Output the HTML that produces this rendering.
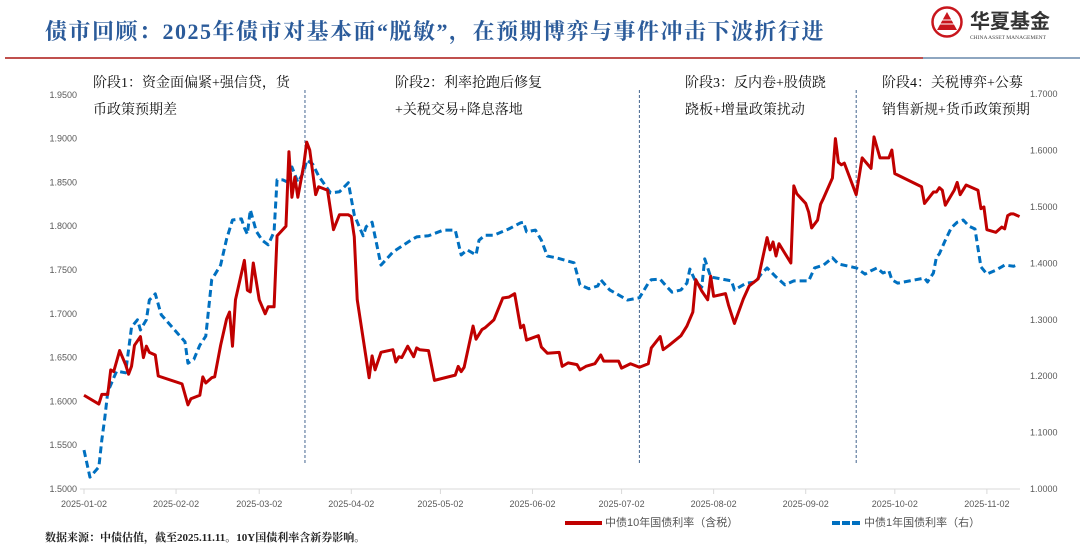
<!DOCTYPE html>
<html><head><meta charset="utf-8">
<style>
body{margin:0;background:#fff;width:1080px;height:553px;overflow:hidden;position:relative;font-family:"Liberation Sans","Noto Sans CJK SC",sans-serif}
.t{position:absolute;white-space:nowrap}
</style></head><body>
<div class="t" style="left:45px;top:15px;font-size:22px;letter-spacing:1.5px;font-weight:bold;color:#2b5b9a;font-family:'Liberation Serif','Noto Serif CJK SC',serif;">债市回顾：2025年债市对基本面“脱敏”，在预期博弈与事件冲击下波折行进</div>
<div style="position:absolute;left:5px;top:57px;width:918px;height:2px;background:#c0504d"></div>
<div style="position:absolute;left:923px;top:57px;width:157px;height:2px;background:#8ea6c0"></div>
<svg style="position:absolute;left:928px;top:4px" width="150" height="40">
<circle cx="19" cy="18" r="14.5" fill="none" stroke="#c8161d" stroke-width="2.5"/>
<polygon points="19,8 29,26 9,26" fill="#c8161d"/>
<line x1="12" y1="20" x2="26" y2="20" stroke="#fff" stroke-width="1"/>
<line x1="14" y1="16" x2="24" y2="16" stroke="#fff" stroke-width="1"/>
<text x="42" y="24" font-size="20" font-weight="bold" fill="#333" font-family="Noto Sans CJK SC,sans-serif">华夏基金</text>
<text x="42" y="35" font-size="5.5" fill="#444" font-family="Liberation Serif,serif">CHINA ASSET MANAGEMENT</text>
</svg>
<svg id="chart" style="position:absolute;left:0;top:0" width="1080" height="553"></svg>
<div class="t" style="left:93px;top:70px;font-size:14px;line-height:27px;color:#111;font-family:'Liberation Serif','Noto Serif CJK SC',serif">阶段1：资金面偏紧+强信贷，货<br>币政策预期差</div>
<div class="t" style="left:395px;top:70px;font-size:14px;line-height:27px;color:#111;font-family:'Liberation Serif','Noto Serif CJK SC',serif">阶段2：利率抢跑后修复<br>+关税交易+降息落地</div>
<div class="t" style="left:685px;top:70px;font-size:14px;line-height:27px;color:#111;font-family:'Liberation Serif','Noto Serif CJK SC',serif">阶段3：反内卷+股债跷<br>跷板+增量政策扰动</div>
<div class="t" style="left:882px;top:70px;font-size:14px;line-height:27px;color:#111;font-family:'Liberation Serif','Noto Serif CJK SC',serif">阶段4：关税博弈+公募<br>销售新规+货币政策预期</div>
<div class="t" style="left:565px;top:514px;font-size:11px;color:#555"><span style="display:inline-block;width:37px;height:4px;background:#c00000;vertical-align:middle;margin-right:3px"></span>中债10年国债利率（含税）</div>
<div class="t" style="left:832px;top:514px;font-size:11px;color:#555"><span style="display:inline-block;width:28px;height:0;border-top:4px dashed #0070c0;vertical-align:middle;margin-right:4px"></span>中债1年国债利率（右）</div>
<div class="t" style="left:45px;top:529px;font-size:11px;font-weight:bold;color:#222;font-family:'Liberation Serif','Noto Serif CJK SC',serif">数据来源：中债估值，截至2025.11.11。10Y国债利率含新券影响。</div>
<script>
const xTickLabels=["2025-01-02","2025-02-02","2025-03-02","2025-04-02","2025-05-02","2025-06-02","2025-07-02","2025-08-02","2025-09-02","2025-10-02","2025-11-02"];
const xTickDays=[0,31,59,90,120,151,181,212,243,273,304];
const leftTicks=[1.50,1.55,1.60,1.65,1.70,1.75,1.80,1.85,1.90,1.95];
const rightTicks=[1.0,1.1,1.2,1.3,1.4,1.5,1.6,1.7];
const eventDays=[74.4,187,260];
const redDays=[0,5,6,8,9,10,11,12,14,15,16,17,19,20,21,22,24,25,33,35,36,39,40,41,43,44,46,48,49,50,51,54,55,56,57,59,61,62,64,65,68,69,70,71,72,74,75,76,78,79,82,84,86,89,90,91,92,96,97,98,100,104,105,106,107,109,111,112,113,116,118,125,126,127,128,131,132,134,135,138,141,143,145,147,148,149,153,154,156,160,161,163,166,167,169,172,174,175,180,181,184,187,190,191,194,195,197,201,203,205,206,208,210,211,212,216,217,219,222,224,227,230,231,232,233,234,236,238,239,240,243,244,245,247,248,249,252,253,254,255,256,260,262,265,266,268,271,272,273,282,283,286,287,288,289,290,293,294,295,297,301,302,303,304,307,309,310,311,312,313,315];
const redVals=[1.607,1.597,1.608,1.608,1.636,1.634,1.646,1.658,1.642,1.631,1.640,1.664,1.674,1.650,1.663,1.656,1.653,1.629,1.620,1.596,1.603,1.607,1.628,1.621,1.627,1.628,1.664,1.694,1.702,1.663,1.716,1.761,1.727,1.725,1.758,1.716,1.700,1.708,1.708,1.789,1.800,1.885,1.833,1.856,1.833,1.870,1.896,1.887,1.836,1.845,1.841,1.796,1.813,1.813,1.811,1.788,1.716,1.627,1.652,1.636,1.656,1.659,1.645,1.651,1.650,1.663,1.651,1.661,1.659,1.658,1.624,1.630,1.640,1.634,1.639,1.686,1.671,1.682,1.684,1.693,1.718,1.719,1.723,1.684,1.687,1.670,1.675,1.662,1.655,1.656,1.640,1.644,1.642,1.636,1.640,1.643,1.653,1.646,1.646,1.638,1.643,1.639,1.643,1.661,1.674,1.659,1.664,1.675,1.686,1.702,1.739,1.726,1.716,1.743,1.720,1.723,1.710,1.689,1.717,1.732,1.740,1.787,1.773,1.782,1.766,1.780,1.769,1.758,1.846,1.837,1.826,1.816,1.798,1.807,1.825,1.832,1.855,1.900,1.873,1.870,1.872,1.836,1.878,1.866,1.902,1.878,1.878,1.887,1.860,1.845,1.826,1.839,1.839,1.844,1.841,1.824,1.841,1.850,1.836,1.847,1.841,1.820,1.822,1.796,1.793,1.799,1.797,1.812,1.814,1.814,1.811];
const blueDays=[0,2,3,5,6,7,8,10,11,14,16,18,19,21,22,24,26,30,34,35,37,39,41,43,46,48,50,53,54,55,56,58,60,62,64,65,67,69,70,72,74,75,77,79,83,86,89,91,93,94,95,97,100,104,108,110,112,116,121,125,127,129,132,133,135,138,143,147,148,149,152,154,156,159,165,167,170,173,174,177,180,183,187,190,191,194,196,198,201,203,204,206,208,209,211,218,219,223,226,228,230,233,236,239,244,246,249,252,254,260,263,265,267,269,271,272,274,278,283,284,286,287,288,290,292,294,296,298,300,301,302,304,307,309,310,313,314];
const blueVals=[1.069,1.021,1.027,1.039,1.087,1.126,1.172,1.197,1.209,1.206,1.287,1.300,1.282,1.300,1.335,1.346,1.309,1.285,1.261,1.223,1.230,1.255,1.271,1.371,1.397,1.443,1.477,1.479,1.463,1.452,1.495,1.457,1.441,1.433,1.456,1.548,1.548,1.543,1.571,1.544,1.562,1.583,1.576,1.555,1.525,1.527,1.543,1.486,1.461,1.449,1.465,1.473,1.397,1.420,1.434,1.441,1.447,1.449,1.459,1.459,1.415,1.424,1.415,1.441,1.450,1.450,1.461,1.472,1.473,1.456,1.459,1.441,1.413,1.410,1.401,1.362,1.355,1.360,1.371,1.353,1.344,1.335,1.339,1.365,1.371,1.372,1.360,1.349,1.353,1.365,1.390,1.367,1.358,1.408,1.376,1.369,1.353,1.365,1.367,1.381,1.392,1.376,1.362,1.369,1.369,1.392,1.397,1.410,1.399,1.392,1.381,1.387,1.392,1.383,1.387,1.371,1.365,1.369,1.374,1.367,1.383,1.411,1.417,1.441,1.463,1.473,1.477,1.466,1.461,1.427,1.394,1.381,1.388,1.394,1.397,1.395,1.397];

const NS="http://www.w3.org/2000/svg";
const svg=document.getElementById('chart');
const X=d=>84+d*2.97;
const YL=v=>489-(v-1.5)*876;
const YR=v=>489-(v-1.0)*564;
function mk(tag,attrs){const e=document.createElementNS(NS,tag);for(const k in attrs)e.setAttribute(k,attrs[k]);svg.appendChild(e);return e;}
let ax=mk('line',{x1:80,x2:1020,y1:489,y2:489,stroke:'#d9d9d9','stroke-width':1});


xTickDays.forEach((d,i)=>{
  let tk=mk('line',{x1:X(d),x2:X(d),y1:489,y2:494,stroke:'#d9d9d9'});
  
  
  let t=mk('text',{x:X(d),y:507,'text-anchor':'middle','font-size':9,fill:'#595959','font-family':'Liberation Sans,sans-serif'});
  t.textContent=xTickLabels[i];
  
  
});
leftTicks.forEach(v=>{
  let t=mk('text',{x:77,y:YL(v)+3,'text-anchor':'end','font-size':9,fill:'#595959','font-family':'Liberation Sans,sans-serif'});
  t.textContent=v.toFixed(4);
  
  
});
rightTicks.forEach(v=>{
  let t=mk('text',{x:1030,y:YR(v)+3,'text-anchor':'start','font-size':9,fill:'#595959','font-family':'Liberation Sans,sans-serif'});
  t.textContent=v.toFixed(4);
  
  
});
eventDays.forEach(d=>{
  let l=mk('line',{x1:X(d),x2:X(d),y1:90,y2:463,stroke:'#44658f','stroke-width':1,'stroke-dasharray':'3,2'});
  
  
});
let bp=mk('polyline',{points:blueDays.map((d,i)=>X(d)+','+YR(blueVals[i])).join(' '),fill:'none',stroke:'#0070c0','stroke-width':3,'stroke-dasharray':'7,4','stroke-linejoin':'round'});


let rp=mk('polyline',{points:redDays.map((d,i)=>X(d)+','+YL(redVals[i])).join(' '),fill:'none',stroke:'#c00000','stroke-width':3,'stroke-linejoin':'round'});


</script>
</body></html>
